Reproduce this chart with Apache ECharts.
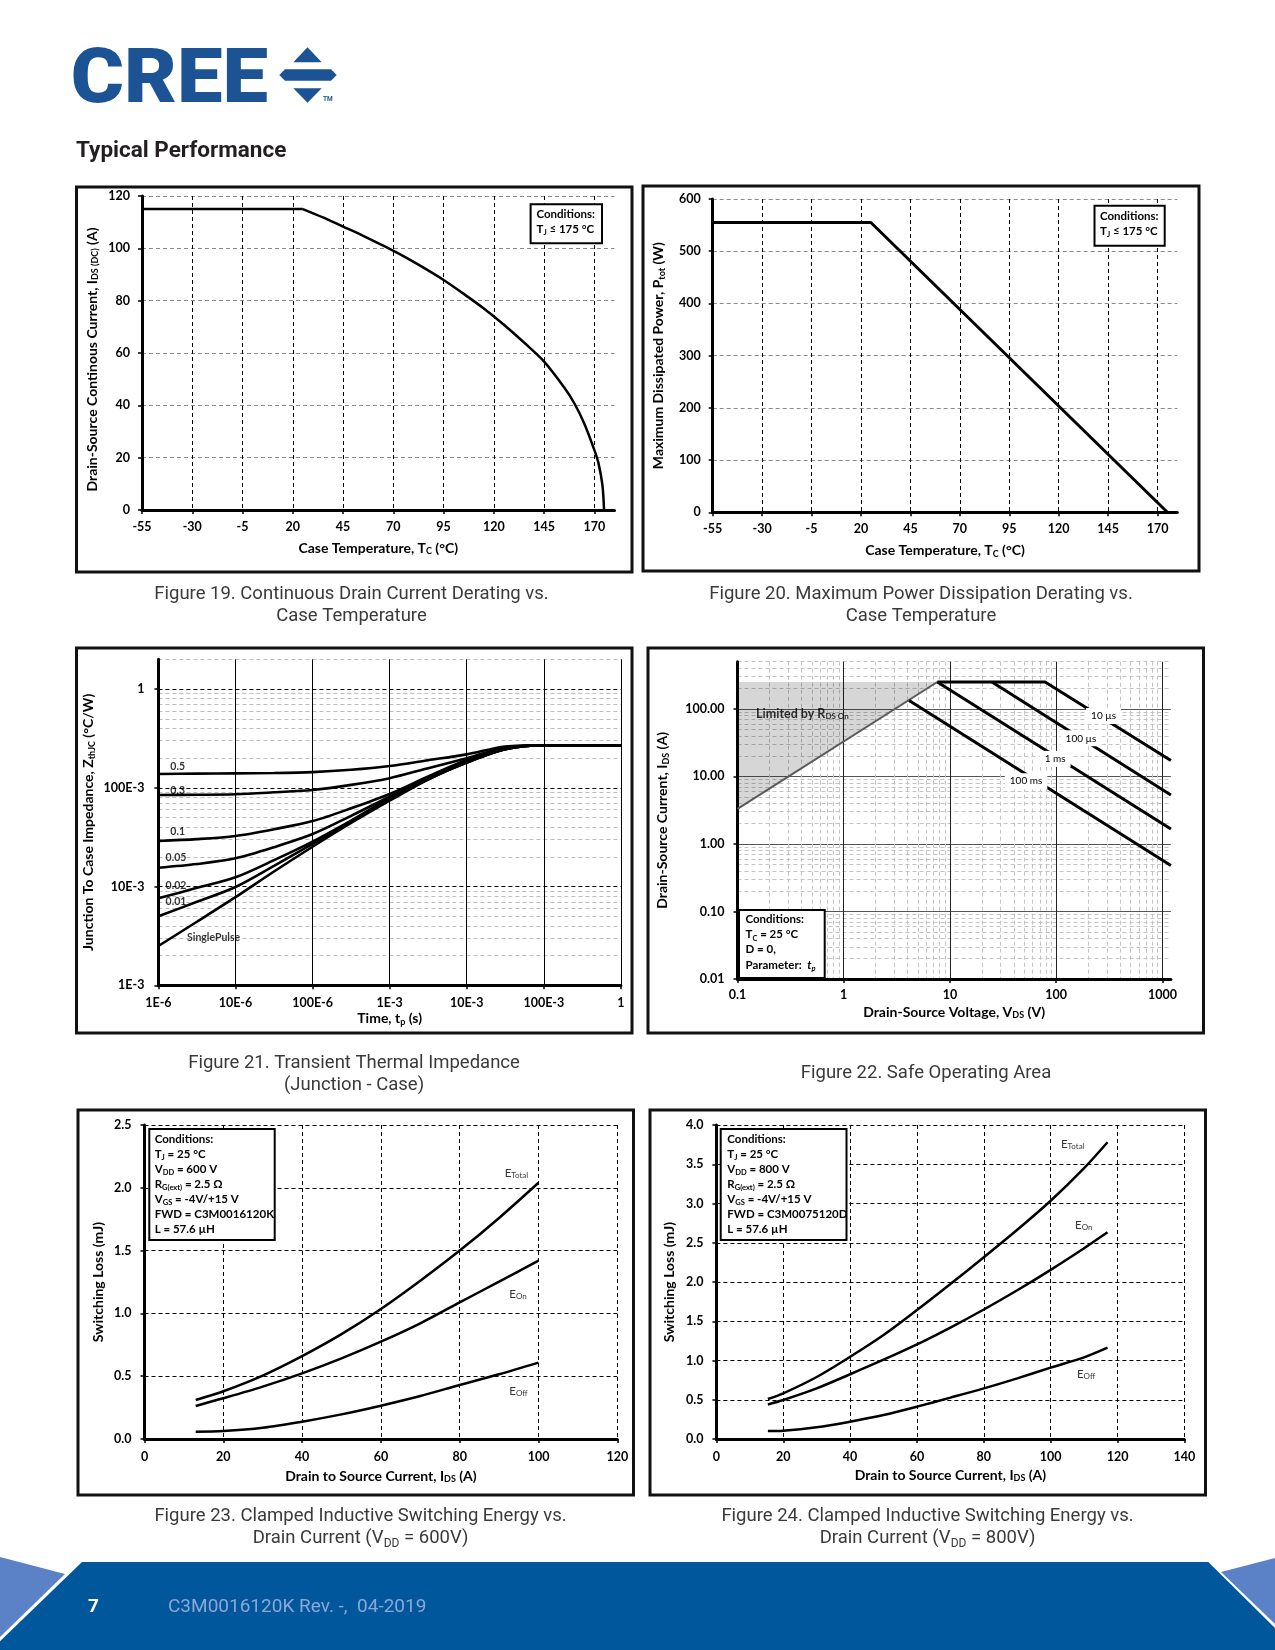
<!DOCTYPE html>
<html>
<head>
<meta charset="utf-8">
<title>C3M0016120K Typical Performance</title>
<script src="https://cdn.jsdelivr.net/npm/echarts@6.0.0/dist/echarts.min.js"></script>
<style>
html,body{margin:0;padding:0;background:#ffffff;}
#page{width:1275px;height:1650px;}
</style>
</head>
<body>
<div id="page"></div>
<script>
// ===================== DATA =====================
// Figure 19 - Continuous drain current derating
const fig19Temp = [-55, 25, 35, 45, 55, 65, 75, 85, 95, 105, 115, 125, 135, 145, 155, 160, 165, 170, 172, 174, 174.8];
const fig19Idc  = [115, 115, 111.8, 108.3, 104.8, 101.0, 97.0, 92.6, 87.9, 82.6, 77.0, 70.8, 64.0, 56.7, 46.8, 40.8, 33.0, 22.9, 18.0, 9.5, 0];
const fig19XTicks = [-55, -30, -5, 20, 45, 70, 95, 120, 145, 170];

// Figure 20 - Maximum power dissipation derating
const fig20Temp = [-55, 25, 175];
const fig20Ptot = [555, 555, 0];
const fig20XTicks = [-55, -30, -5, 20, 45, 70, 95, 120, 145, 170];

// Figure 21 - Transient thermal impedance
const fig21Time   = [1e-6, 3.16e-6, 1e-5, 3.16e-5, 1e-4, 3.16e-4, 1e-3, 3.16e-3, 1e-2, 3.16e-2, 1e-1, 1];
const fig21D050   = [0.138, 0.139, 0.140, 0.141, 0.144, 0.152, 0.166, 0.190, 0.218, 0.262, 0.27, 0.27];
const fig21D030   = [0.0845, 0.085, 0.086, 0.090, 0.095, 0.107, 0.125, 0.158, 0.199, 0.255, 0.27, 0.27];
const fig21D010   = [0.0289, 0.0302, 0.0325, 0.038, 0.046, 0.062, 0.0865, 0.130, 0.191, 0.250, 0.27, 0.27];
const fig21D005   = [0.0155, 0.0169, 0.0193, 0.025, 0.034, 0.052, 0.0813, 0.125, 0.184, 0.248, 0.27, 0.27];
const fig21D002   = [0.0076, 0.0097, 0.0124, 0.0185, 0.0285, 0.0465, 0.0784, 0.123, 0.180, 0.246, 0.27, 0.27];
const fig21D001   = [0.0050, 0.0070, 0.0099, 0.0162, 0.027, 0.045, 0.076, 0.122, 0.180, 0.245, 0.27, 0.27];
const fig21Single = [0.0025, 0.0044, 0.0078, 0.0142, 0.0253, 0.044, 0.074, 0.121, 0.181, 0.245, 0.27, 0.27];
const fig21XTicks  = [1e-6, 1e-5, 1e-4, 1e-3, 1e-2, 1e-1, 1];
const fig21XLabels = ['1E-6', '10E-6', '100E-6', '1E-3', '10E-3', '100E-3', '1'];
const fig21YTicks  = [1e-3, 1e-2, 1e-1, 1];
const fig21YLabels = ['1E-3', '10E-3', '100E-3', '1'];
const fig21CurveLabels = [
  ['0.5', 1.78e-6, 0.164], ['0.3', 1.78e-6, 0.0945], ['0.1', 1.78e-6, 0.036],
  ['0.05', 1.69e-6, 0.0196], ['0.02', 1.69e-6, 0.0102], ['0.01', 1.69e-6, 0.0070],
  ['SinglePulse', 5.2e-6, 0.00303]
];

// Figure 22 - Safe operating area
const soaRdsLimit = [[0.1, 3.3], [7.6, 250]];
const soaRegion   = [[0.1, 3.3], [7.6, 250], [0.1, 250]];
const soa10us  = [[7.6, 250], [78.5, 250], [1200, 17.2]];
const soa100us = [[24.8, 250], [1200, 5.3]];
const soa1ms   = [[7.6, 250], [1200, 1.67]];
const soa100ms = [[4.12, 133], [1200, 0.48]];
const soaXTicks  = [0.1, 1, 10, 100, 1000];
const soaXLabels = ['0.1', '1', '10', '100', '1000'];
const soaYTicks  = [0.01, 0.1, 1, 10, 100];
const soaYLabels = ['0.01', '0.10', '1.00', '10.00', '100.00'];
const soaCurveLabels = [['10 µs', 279, 78.8], ['100 µs', 171, 36.7], ['1 ms', 97.7, 18.2], ['100 ms', 52, 8.48]];
const soaRegionLabel = [['Limited by R{s|DS On}', 0.148, 84]];

// Figure 23 - switching energy, VDD = 600 V
const fig23Ids    = [13, 20, 30, 40, 50, 60, 70, 80, 90, 100];
const fig23ETotal = [0.311, 0.380, 0.505, 0.660, 0.835, 1.035, 1.260, 1.500, 1.760, 2.040];
const fig23EOn    = [0.263, 0.324, 0.417, 0.523, 0.642, 0.775, 0.921, 1.088, 1.253, 1.420];
const fig23EOff   = [0.058, 0.064, 0.090, 0.138, 0.196, 0.265, 0.342, 0.430, 0.515, 0.608];
const fig23Labels = [['E{s|Total}', 94.4, 2.115], ['E{s|On}', 94.8, 1.152], ['E{s|Off}', 94.9, 0.382]];

// Figure 24 - switching energy, VDD = 800 V
const fig24Ids    = [15.4, 20, 30, 40, 50, 60, 70, 80, 90, 100, 110, 117];
const fig24ETotal = [0.510, 0.582, 0.790, 1.047, 1.325, 1.643, 1.975, 2.315, 2.665, 3.035, 3.450, 3.780];
const fig24EOn    = [0.440, 0.497, 0.645, 0.825, 1.010, 1.205, 1.420, 1.650, 1.895, 2.155, 2.430, 2.633];
const fig24EOff   = [0.102, 0.106, 0.149, 0.221, 0.306, 0.412, 0.527, 0.645, 0.773, 0.909, 1.040, 1.163];
const fig24Labels = [['E{s|Total}', 106.6, 3.75], ['E{s|On}', 109.9, 2.72], ['E{s|Off}', 110.6, 0.828]];

// log-grid minor multipliers
const minorMult = [2, 3, 4, 5, 6, 7, 8, 9];

// ===================== HELPERS =====================
const LATO = 'Lato';
const ROB = 'Roboto';
const zip = (xs, ys) => xs.map((x, i) => [x, ys[i]]);
const minorValues = (decades, maxV) => {
  const out = [];
  decades.forEach(d => minorMult.forEach(m => { const v = m * d; if (v <= maxV * 1.0001) out.push(v); }));
  return out;
};
const logFmt = (labels, firstExp) => v => labels[Math.round(Math.log10(v)) - firstExp] || '';

const tickText = {fontFamily: LATO, fontWeight: 'bold', fontSize: 12.5, color: '#000'};
const subRich = {s: {fontFamily: LATO, fontWeight: 'bold', fontSize: 9, lineHeight: 9, verticalAlign: 'bottom', color: '#000'}};
const nameTS = {fontFamily: LATO, fontWeight: 'bold', fontSize: 14, lineHeight: 16, color: '#000', rich: subRich};
const axLine = {show: true, onZero: false, lineStyle: {color: '#000', width: 3}};
const axTick = extra => Object.assign({show: true, length: 4, lineStyle: {color: '#000', width: 1.5}}, extra || {});
const dashed = c => ({show: true, lineStyle: {color: c, width: 1, type: [4, 3]}});
const solid = c => ({show: true, lineStyle: {color: c, width: 1, type: 'solid'}});

const curve = (xi, yi, data, extra) => Object.assign({
  type: 'line', xAxisIndex: xi, yAxisIndex: yi, data: data, showSymbol: false, symbol: 'none',
  silent: true, z: 3, lineStyle: {color: '#000', width: 2.5}
}, extra || {});

const labelSeries = (xi, yi, items, lbl) => ({
  type: 'scatter', xAxisIndex: xi, yAxisIndex: yi, symbol: 'circle', symbolSize: 1, silent: true, z: 8,
  itemStyle: {color: 'rgba(0,0,0,0)'},
  data: items.map(([t, x, y]) => ({name: t, value: [x, y]})),
  label: Object.assign({show: true, position: 'inside', formatter: '{b}', color: '#000'}, lbl)
});

// ===================== LAYOUT =====================
const grids = [
  {left: 142, top: 196, width: 472.5, height: 314},
  {left: 712.7, top: 199, width: 464.6, height: 313.3},
  {left: 158.4, top: 659.3, width: 462.5, height: 326},
  {left: 737.5, top: 661.7, width: 433.4, height: 317.3},
  {left: 144.5, top: 1125, width: 472.8, height: 314},
  {left: 716.4, top: 1125, width: 468, height: 314}
];

const xAxes = [
  // 0 : fig 19
  {gridIndex: 0, type: 'value', min: -55, max: 180, axisLine: axLine,
   axisTick: axTick({customValues: fig19XTicks}),
   axisLabel: Object.assign({margin: 10, customValues: fig19XTicks}, tickText),
   splitLine: dashed('#000'),
   name: 'Case Temperature, T{s|C} (°C)', nameLocation: 'middle', nameGap: 30, nameTextStyle: nameTS},
  // 1 : fig 20
  {gridIndex: 1, type: 'value', min: -55, max: 180, axisLine: axLine,
   axisTick: axTick({customValues: fig20XTicks}),
   axisLabel: Object.assign({margin: 10, customValues: fig20XTicks}, tickText),
   splitLine: dashed('#000'),
   name: 'Case Temperature, T{s|C} (°C)', nameLocation: 'middle', nameGap: 30, nameTextStyle: nameTS},
  // 2 : fig 21
  {gridIndex: 2, type: 'log', logBase: 10, min: 1e-6, max: 1, axisLine: axLine,
   axisTick: axTick({customValues: fig21XTicks}),
   axisLabel: Object.assign({margin: 11, customValues: fig21XTicks, formatter: logFmt(fig21XLabels, -6)}, tickText),
   splitLine: solid('#000'),
   name: 'Time, t{s|p} (s)', nameLocation: 'middle', nameGap: 25, nameTextStyle: nameTS},
  // 3 : fig 22 main
  {gridIndex: 3, type: 'log', logBase: 10, min: 0.1, max: 1200, axisLine: axLine,
   axisTick: axTick({customValues: soaXTicks}),
   axisLabel: Object.assign({margin: 9, customValues: soaXTicks, formatter: logFmt(soaXLabels, -1)}, tickText),
   splitLine: solid('#222'),
   name: 'Drain-Source Voltage, V{s|DS} (V)', nameLocation: 'middle', nameGap: 25, nameTextStyle: nameTS},
  // 4 : fig 22 minor grid
  {gridIndex: 3, type: 'log', logBase: 10, min: 0.1, max: 1200, position: 'top',
   axisLine: {show: false}, axisLabel: {show: false},
   axisTick: {show: false, customValues: minorValues([0.1, 1, 10, 100, 1000], 1200)},
   splitLine: dashed('#c4c4c4')},
  // 5 : fig 23
  {gridIndex: 4, type: 'value', min: 0, max: 120, interval: 20, axisLine: axLine,
   axisTick: axTick(), axisLabel: Object.assign({margin: 11}, tickText),
   splitLine: dashed('#000'),
   name: 'Drain to Source Current, I{s|DS} (A)', nameLocation: 'middle', nameGap: 29, nameTextStyle: nameTS},
  // 6 : fig 24
  {gridIndex: 5, type: 'value', min: 0, max: 140, interval: 20, axisLine: axLine,
   axisTick: axTick(), axisLabel: Object.assign({margin: 11}, tickText),
   splitLine: dashed('#000'),
   name: 'Drain to Source Current, I{s|DS} (A)', nameLocation: 'middle', nameGap: 28, nameTextStyle: nameTS}
];

const yAxes = [
  // 0 : fig 19
  {gridIndex: 0, type: 'value', min: 0, max: 120, interval: 20, axisLine: axLine, axisTick: axTick(),
   axisLabel: Object.assign({margin: 12}, tickText), splitLine: dashed('#8a8a8a'),
   name: 'Drain-Source Continous Current, I{s|DS (DC)} (A)', nameLocation: 'middle', nameGap: 42,
   nameTextStyle: Object.assign({}, nameTS, {padding: [0, 13, 0, 0]})},
  // 1 : fig 20
  {gridIndex: 1, type: 'value', min: 0, max: 600, interval: 100, axisLine: axLine, axisTick: axTick(),
   axisLabel: Object.assign({margin: 12}, tickText), splitLine: dashed('#8a8a8a'),
   name: 'Maximum Dissipated Power, P{s|tot} (W)', nameLocation: 'middle', nameGap: 46, nameTextStyle: nameTS},
  // 2 : fig 21 main
  {gridIndex: 2, type: 'log', logBase: 10, min: 1e-3, max: 2, axisLine: axLine,
   axisTick: axTick({customValues: fig21YTicks}),
   axisLabel: Object.assign({margin: 14, customValues: fig21YTicks, formatter: logFmt(fig21YLabels, -3)}, tickText),
   splitLine: dashed('#000'),
   name: 'Junction To Case Impedance, Z{s|thJC} (°C/W)', nameLocation: 'middle', nameGap: 62, nameTextStyle: nameTS},
  // 3 : fig 21 minor grid
  {gridIndex: 2, type: 'log', logBase: 10, min: 1e-3, max: 2, position: 'right',
   axisLine: {show: false}, axisLabel: {show: false},
   axisTick: {show: false, customValues: minorValues([1e-3, 1e-2, 1e-1, 1], 2)},
   splitLine: dashed('#bdbdbd')},
  // 4 : fig 22 main
  {gridIndex: 3, type: 'log', logBase: 10, min: 0.01, max: 500, axisLine: axLine,
   axisTick: axTick({customValues: soaYTicks}),
   axisLabel: Object.assign({margin: 13, customValues: soaYTicks, formatter: logFmt(soaYLabels, -2)}, tickText),
   splitLine: solid('#555'),
   name: 'Drain-Source Current, I{s|DS} (A)', nameLocation: 'middle', nameGap: 67, nameTextStyle: nameTS},
  // 5 : fig 22 minor grid
  {gridIndex: 3, type: 'log', logBase: 10, min: 0.01, max: 500, position: 'right',
   axisLine: {show: false}, axisLabel: {show: false},
   axisTick: {show: false, customValues: minorValues([0.01, 0.1, 1, 10, 100], 500)},
   splitLine: dashed('#c4c4c4')},
  // 6 : fig 23
  {gridIndex: 4, type: 'value', min: 0, max: 2.5, interval: 0.5, axisLine: axLine, axisTick: axTick(),
   axisLabel: Object.assign({margin: 13, formatter: v => v.toFixed(1)}, tickText), splitLine: dashed('#000'),
   name: 'Switching Loss (mJ)', nameLocation: 'middle', nameGap: 38, nameTextStyle: nameTS},
  // 7 : fig 24
  {gridIndex: 5, type: 'value', min: 0, max: 4, interval: 0.5, axisLine: axLine, axisTick: axTick(),
   axisLabel: Object.assign({margin: 13, formatter: v => v.toFixed(1)}, tickText), splitLine: dashed('#000'),
   name: 'Switching Loss (mJ)', nameLocation: 'middle', nameGap: 39, nameTextStyle: nameTS}
];

// ===================== SERIES =====================
const fig19Data = zip(fig19Temp, fig19Idc);
const fig21Sets = [fig21D050, fig21D030, fig21D010, fig21D005, fig21D002, fig21D001, fig21Single];
const eRich = {s: {fontFamily: LATO, fontSize: 8, lineHeight: 8, verticalAlign: 'bottom', color: '#000'}};

const series = [
  // fig 19
  curve(0, 0, fig19Data.slice(0, 2)),
  curve(0, 0, fig19Data.slice(1), {smooth: 0.3}),
  // fig 20
  curve(1, 1, zip(fig20Temp, fig20Ptot), {lineStyle: {color: '#000', width: 3}}),
  // fig 21
  ...fig21Sets.map(ys => curve(2, 2, zip(fig21Time, ys), {smooth: 0.3, lineStyle: {color: '#000', width: 2.6}})),
  labelSeries(2, 2, fig21CurveLabels, {fontFamily: LATO, fontWeight: 'bold', fontSize: 10.5}),
  // fig 22
  {type: 'custom', xAxisIndex: 3, yAxisIndex: 4, silent: true, z: 1, data: soaRegion, encode: {x: 0, y: 1},
   renderItem: (params, api) => {
     if (params.dataIndex !== 0) return null;
     return {type: 'polygon', shape: {points: soaRegion.map(p => api.coord(p))}, style: {fill: 'rgba(0,0,0,0.16)'}};
   }},
  curve(3, 4, soaRdsLimit, {lineStyle: {color: '#5a5a5a', width: 2}}),
  curve(3, 4, soa10us, {lineStyle: {color: '#000', width: 3}}),
  curve(3, 4, soa100us, {lineStyle: {color: '#000', width: 3}}),
  curve(3, 4, soa1ms, {lineStyle: {color: '#000', width: 3}}),
  curve(3, 4, soa100ms, {lineStyle: {color: '#000', width: 3}}),
  labelSeries(3, 4, soaRegionLabel, {position: 'right', distance: 0, fontFamily: LATO, fontWeight: 'bold', fontSize: 12.5,
    rich: {s: {fontFamily: LATO, fontWeight: 'bold', fontSize: 8, lineHeight: 8, verticalAlign: 'bottom', color: '#000'}}}),
  // fig 23
  curve(5, 6, zip(fig23Ids, fig23ETotal), {smooth: 0.3}),
  curve(5, 6, zip(fig23Ids, fig23EOn), {smooth: 0.3}),
  curve(5, 6, zip(fig23Ids, fig23EOff), {smooth: 0.3}),
  labelSeries(5, 6, fig23Labels, {fontFamily: LATO, fontSize: 11.5, rich: eRich}),
  // fig 24
  curve(6, 7, zip(fig24Ids, fig24ETotal), {smooth: 0.3}),
  curve(6, 7, zip(fig24Ids, fig24EOn), {smooth: 0.3}),
  curve(6, 7, zip(fig24Ids, fig24EOff), {smooth: 0.3}),
  labelSeries(6, 7, fig24Labels, {fontFamily: LATO, fontSize: 11.5, rich: eRich})
];

// ===================== PAGE GRAPHICS =====================
const capRich = {s: {fontFamily: ROB, fontSize: 12, lineHeight: 13, verticalAlign: 'bottom', fill: '#3a3a3a'}};
const caption = (x, y, text) => ({type: 'text', x: x, y: y, z: 10,
  style: {text: text, fontFamily: ROB, fontSize: 18.5, lineHeight: 22, fill: '#3a3a3a', align: 'center', verticalAlign: 'middle', rich: capRich}});
const frame = (x, y, w, h) => ({type: 'rect', z: 10, shape: {x: x, y: y, width: w, height: h},
  style: {fill: 'none', stroke: '#111', lineWidth: 3}});
const condRich = {
  s: {fontFamily: LATO, fontWeight: 'bold', fontSize: 7.5, lineHeight: 8, verticalAlign: 'bottom', fill: '#000'},
  i: {fontFamily: LATO, fontWeight: 'bold', fontStyle: 'italic', fontSize: 11.5, lineHeight: 15, fill: '#000'},
  is: {fontFamily: LATO, fontWeight: 'bold', fontStyle: 'italic', fontSize: 7.5, lineHeight: 8, verticalAlign: 'bottom', fill: '#000'}
};
const condBox = (x, y, w, h, tx, ty, lh, text) => ({type: 'group', z: 50, children: [
  {type: 'rect', z: 50, shape: {x: x, y: y, width: w, height: h}, style: {fill: '#fff', stroke: '#000', lineWidth: 2}},
  {type: 'text', z: 51, x: tx, y: ty, style: {text: text, fontFamily: LATO, fontWeight: 'bold', fontSize: 11.5,
    lineHeight: lh, fill: '#000', align: 'left', verticalAlign: 'top', rich: condRich}}
]});

const graphics = [
  // logo
  {type: 'text', x: 76, y: 83, scaleX: 1.07, originX: 76, originY: 83, z: 10,
   style: {text: 'CREE', fontFamily: ROB, fontWeight: 900, fontSize: 76, fill: '#1b5395', align: 'left', verticalAlign: 'middle'}},
  {type: 'polygon', z: 10, shape: {points: [[293.3, 62.3], [321.7, 62.3], [307.5, 47.3]]}, style: {fill: '#1b5395'}},
  {type: 'polygon', z: 10, shape: {points: [[279.3, 75], [285, 69.3], [331, 69.3], [336.7, 75], [331, 80.7], [285, 80.7]]}, style: {fill: '#1b5395'}},
  {type: 'polygon', z: 10, shape: {points: [[293.3, 88.3], [321.7, 88.3], [307.5, 102.7]]}, style: {fill: '#1b5395'}},
  {type: 'text', x: 323, y: 99, z: 10, style: {text: 'TM', fontFamily: ROB, fontWeight: 'bold', fontSize: 6.5, fill: '#1b5395', align: 'left', verticalAlign: 'middle'}},
  // heading
  {type: 'text', x: 76, y: 151, z: 10, style: {text: 'Typical Performance', fontFamily: ROB, fontWeight: 'bold', fontSize: 22.5,
    fill: '#231f20', align: 'left', verticalAlign: 'middle'}},
  // frames
  frame(76.5, 187, 555.5, 385),
  frame(643, 186, 556, 385),
  frame(76.5, 648, 555.5, 385),
  frame(648, 648, 555.5, 385),
  frame(78, 1110, 555.5, 385),
  frame(650, 1110, 555.5, 385),
  // captions
  caption(351.5, 594, 'Figure 19. Continuous Drain Current Derating vs.'),
  caption(351.5, 616, 'Case Temperature'),
  caption(921, 594, 'Figure 20. Maximum Power Dissipation Derating vs.'),
  caption(921, 616, 'Case Temperature'),
  caption(354, 1063, 'Figure 21. Transient Thermal Impedance'),
  caption(354, 1085, '(Junction - Case)'),
  caption(926, 1073.5, 'Figure 22. Safe Operating Area'),
  caption(360.5, 1516.5, 'Figure 23. Clamped Inductive Switching Energy vs.'),
  caption(360.5, 1538.5, 'Drain Current (V{s|DD} = 600V)'),
  caption(927.5, 1516.5, 'Figure 24. Clamped Inductive Switching Energy vs.'),
  caption(927.5, 1538.5, 'Drain Current (V{s|DD} = 800V)'),
  // condition boxes
  condBox(530.6, 204.3, 71.4, 39, 536.5, 207, 15, 'Conditions:\nT{s|J} ≤ 175 °C'),
  condBox(1094.5, 205.7, 70.2, 40, 1100, 208.5, 15, 'Conditions:\nT{s|J} ≤ 175 °C'),
  condBox(739, 910, 85.7, 68, 745.5, 911.7, 15.2, 'Conditions:\nT{s|C} = 25 °C\nD = 0,\nParameter:  {i|t}{is|p}'),
  condBox(149.3, 1129, 125.4, 111, 154.7, 1132, 15,
    'Conditions:\nT{s|J} = 25 °C\nV{s|DD} = 600 V\nR{s|G(ext)} = 2.5 Ω\nV{s|GS} = -4V/+15 V\nFWD = C3M0016120K\nL = 57.6 µH'),
  condBox(720.7, 1129, 125.8, 111, 727.3, 1132, 15,
    'Conditions:\nT{s|J} = 25 °C\nV{s|DD} = 800 V\nR{s|G(ext)} = 2.5 Ω\nV{s|GS} = -4V/+15 V\nFWD = C3M0075120D\nL = 57.6 µH'),
  // footer
  {type: 'polygon', z: 5, shape: {points: [[82, 1562], [1208.3, 1562], [1275, 1628], [1275, 1650], [-9, 1650]]}, style: {fill: '#01579b'}},
  {type: 'polygon', z: 5, shape: {points: [[0, 1557], [65, 1574], [0, 1637]]}, style: {fill: '#5b82c6'}},
  {type: 'polygon', z: 5, shape: {points: [[1221, 1572], [1275, 1558], [1275, 1624]]}, style: {fill: '#5b82c6'}},
  {type: 'text', x: 88, y: 1607, z: 6, style: {text: '7', fontFamily: ROB, fontWeight: 'bold', fontSize: 19, fill: '#ffffff', align: 'left', verticalAlign: 'middle'}},
  {type: 'text', x: 168, y: 1607, z: 6, style: {text: 'C3M0016120K Rev. -,  04-2019', fontFamily: ROB, fontSize: 19, fill: '#8ca6d6', align: 'left', verticalAlign: 'middle'}}
];

// ===================== RENDER =====================
const chart = echarts.init(document.getElementById('page'), null, {renderer: 'canvas', width: 1275, height: 1650});
chart.setOption({
  animation: false,
  backgroundColor: '#ffffff',
  grid: grids,
  xAxis: xAxes,
  yAxis: yAxes,
  series: series
});

// SOA pulse-width labels (white boxes that break the lines), placed through the axes' own scales
const soaLabelEls = soaCurveLabels.map(([t, x, y]) => {
  const p = chart.convertToPixel({xAxisIndex: 3, yAxisIndex: 4}, [x, y]);
  return {type: 'text', x: p[0], y: p[1], z: 60,
    style: {text: t, fontFamily: LATO, fontSize: 10, fill: '#000', backgroundColor: '#ffffff', padding: [3, 5],
      align: 'center', verticalAlign: 'middle'}};
});

chart.setOption({graphic: {elements: graphics.concat(soaLabelEls)}});
</script>
</body>
</html>
